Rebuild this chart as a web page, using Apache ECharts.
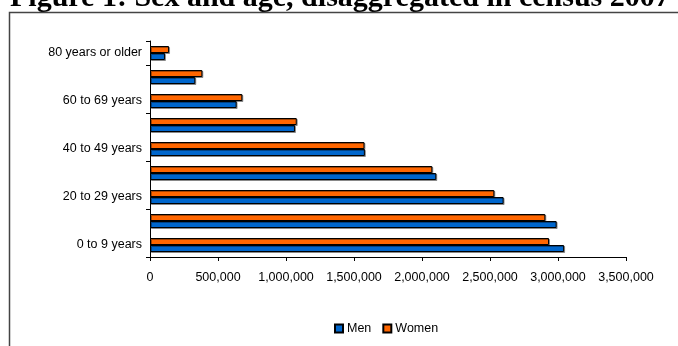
<!DOCTYPE html>
<html>
<head>
<meta charset="utf-8">
<script src="https://cdn.jsdelivr.net/npm/echarts@6/dist/echarts.min.js"></script>
<style>
  html, body { margin: 0; padding: 0; background: #fff; }
  #chart { width: 678px; height: 346px; }
</style>
</head>
<body>
<div id="chart"></div>
<script>
// Age groups, youngest at the bottom of the axis
const ageGroups = [
  '0 to 9 years', '10 to 19 years', '20 to 29 years', '30 to 39 years',
  '40 to 49 years', '50 to 59 years', '60 to 69 years', '70 to 79 years',
  '80 years or older'
];
// Population counts per age group
const men   = [3045000, 2990000, 2600000, 2105000, 1580000, 1066000, 637000, 333000, 110000];
const women = [2934000, 2907000, 2532000, 2076000, 1577000, 1079000, 679000, 385000, 140000];
const xMax = 3500000;
const xStep = 500000;

const chart = echarts.init(document.getElementById('chart'), null, { renderer: 'canvas' });

const barShadow = {
  borderColor: '#000',
  borderWidth: 1,
  shadowColor: 'rgba(0,0,0,0.35)',
  shadowOffsetX: 1,
  shadowOffsetY: 1,
  shadowBlur: 0
};

chart.setOption({
  backgroundColor: '#fff',
  animation: false,
  textStyle: { fontFamily: 'Arial, "Liberation Sans", sans-serif' },
  graphic: [
    {
      type: 'text',
      x: 10,
      y: -2,
      style: {
        text: 'Figure 1: Sex and age, disaggregated in census 2007',
        font: 'bold 30px "Liberation Serif", "Times New Roman", serif',
        fill: '#000',
        align: 'left',
        verticalAlign: 'middle'
      }
    },
    {
      type: 'rect',
      shape: { x: 9.5, y: 12.5, width: 800, height: 400 },
      style: { fill: null, stroke: '#444', lineWidth: 1.5 }
    }
  ],
  grid: { left: 150, top: 41, width: 476, height: 216, containLabel: false },
  legend: {
    data: ['Men', 'Women'],
    left: 334,
    top: 322,
    padding: 0,
    icon: 'rect',
    itemWidth: 8,
    itemHeight: 8,
    itemGap: 11,
    textStyle: { fontSize: 12.5, color: '#000', padding: [0, 0, 0, -1] }
  },
  xAxis: {
    type: 'value',
    min: 0,
    max: xMax,
    interval: xStep,
    axisLine: { show: true, lineStyle: { color: '#000', width: 1 } },
    axisTick: { show: true, length: 4, lineStyle: { color: '#000' } },
    splitLine: { show: false },
    axisLabel: {
      color: '#000',
      fontSize: 12.5,
      margin: 14,
      formatter: v => v.toLocaleString('en-US')
    }
  },
  yAxis: {
    type: 'category',
    data: ageGroups,
    axisLine: { show: true, lineStyle: { color: '#000', width: 1 } },
    axisTick: { show: true, length: 4, inside: false, alignWithLabel: false, lineStyle: { color: '#000' } },
    axisLabel: { color: '#000', fontSize: 12.5, margin: 8, interval: 1 },
    splitLine: { show: false }
  },
  series: [
    {
      name: 'Women',
      type: 'bar',
      data: women,
      barWidth: 7,
      barGap: '0%',
      itemStyle: Object.assign({ color: '#FF6600' }, barShadow)
    },
    {
      name: 'Men',
      type: 'bar',
      data: men,
      barWidth: 7,
      barGap: '0%',
      itemStyle: Object.assign({ color: '#0066CC' }, barShadow)
    }
  ]
});
</script>
</body>
</html>
